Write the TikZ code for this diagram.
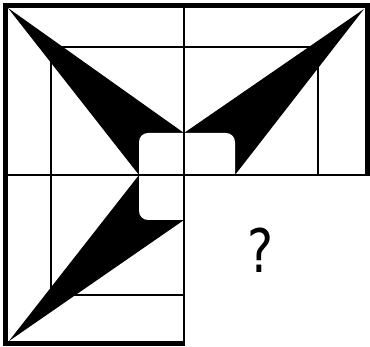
\documentclass[tikz,border=0pt]{standalone}
\usepackage{fontspec}
\usetikzlibrary{positioning}
\newfontfamily\askfont{DejaVu Sans}

\begin{document}
\begin{tikzpicture}[x=1pt, y=-1pt,
        frame/.style={line width=5pt, line join=miter},
        gridline/.style={line width=1.8pt},
        blade/.style={fill=black},
        hole/.style={fill=white, rounded corners=9pt}
    ]
    \useasboundingbox (0,0) rectangle (370,347);

    % three blades of the pinwheel
    \fill[blade] (8,8) -- (184,133) -- (139,175) -- cycle;
    \fill[blade] (364,9) -- (184,133) -- (235,175) -- cycle;
    \fill[blade] (9,341) -- (139,175) -- (184,220) -- cycle;

    % rounded hole in the middle
    \fill[hole] (139,133) rectangle (235,220);

    % inner lines
    \draw[gridline] (51,47) -- (318,47) -- (318,175);
    \draw[gridline] (51,47) -- (51,295) -- (184,295);
    \draw[gridline] (5,175) -- (367,175);
    \draw[gridline] (184,5) -- (184,343);

    % outer frame, open in the lower right
    \draw[frame] (367,176) -- (367,5.5) -- (5.5,5.5) -- (5.5,343.5) -- (185,343.5);

    \node[font=\askfont\fontsize{60}{60}\selectfont, inner sep=0pt] (ask) at (260.5,250) {\scalebox{0.82}[1]{?}};
\end{tikzpicture}
\end{document}
